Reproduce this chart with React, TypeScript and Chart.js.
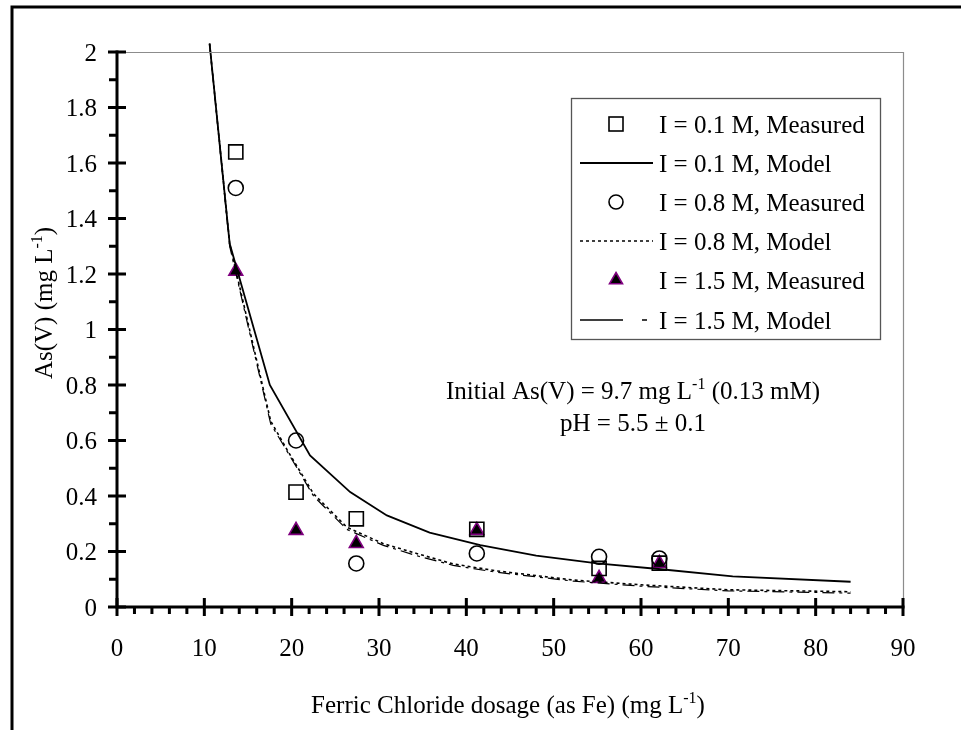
import React, { useEffect, useRef } from "react";
import { Chart, registerables } from "chart.js";

Chart.register(...registerables);

// ---- data ----
const xMajorTicks = [0, 10, 20, 30, 40, 50, 60, 70, 80, 90];
const xTickLabels = ["0", "10", "20", "30", "40", "50", "60", "70", "80", "90"];
const yMajorTicks = [0, 0.2, 0.4, 0.6, 0.8, 1, 1.2, 1.4, 1.6, 1.8, 2];
const yTickLabels = ["0", "0.2", "0.4", "0.6", "0.8", "1", "1.2", "1.4", "1.6", "1.8", "2"];

const dosage = [13.6, 20.5, 27.4, 41.2, 55.2, 62.1];
const measured01 = [1.64, 0.414, 0.318, 0.28, 0.139, 0.158];
const measured08 = [1.51, 0.6, 0.157, 0.193, 0.181, 0.175];
const measured15 = [1.21, 0.276, 0.229, 0.276, 0.103, 0.157];

const model01X = [10.6, 12.9, 17.5, 22.1, 26.7, 30.9, 35.8, 41.6, 48, 55, 62, 70.5, 84];
const model01Y = [2.03, 1.31, 0.8, 0.546, 0.414, 0.33, 0.268, 0.223, 0.185, 0.157, 0.137, 0.11, 0.091];

const model08X = [10.6, 12.9, 17.6, 19.5, 22.5, 26.3, 30.5, 34.3, 38.5, 43.5, 52.3, 60, 70, 84];
const model08Y = [2.03, 1.31, 0.67, 0.565, 0.408, 0.288, 0.228, 0.193, 0.155, 0.13, 0.097, 0.08, 0.062, 0.055];

const model15X = [10.6, 12.9, 17.6, 19.5, 22.5, 26.3, 30.5, 34.3, 38.5, 43.5, 52.3, 60, 70, 84];
const model15Y = [2.03, 1.3, 0.66, 0.56, 0.4, 0.28, 0.222, 0.185, 0.15, 0.125, 0.093, 0.075, 0.058, 0.05];

const legendLabels = [
  "I = 0.1 M, Measured",
  "I = 0.1 M, Model",
  "I = 0.8 M, Measured",
  "I = 0.8 M, Model",
  "I = 1.5 M, Measured",
  "I = 1.5 M, Model",
];

const FONT = "'Liberation Serif', 'Times New Roman', serif";
const PURPLE = "#800080";

const toPts = (xs: number[], ys: number[]) => xs.map((x, i) => ({ x, y: ys[i] }));

type Part = { t: string; sup?: boolean };

function richWidth(ctx: CanvasRenderingContext2D, parts: Part[], size: number, supSize: number) {
  let w = 0;
  for (const p of parts) {
    ctx.font = `${p.sup ? supSize : size}px ${FONT}`;
    w += ctx.measureText(p.t).width;
  }
  return w;
}

function drawRich(
  ctx: CanvasRenderingContext2D,
  parts: Part[],
  x: number,
  baseline: number,
  align: "left" | "center",
  size = 25,
  supSize = 16
) {
  const w = richWidth(ctx, parts, size, supSize);
  let cx = align === "center" ? x - w / 2 : x;
  ctx.textAlign = "left";
  ctx.textBaseline = "alphabetic";
  ctx.fillStyle = "#000";
  for (const p of parts) {
    ctx.font = `${p.sup ? supSize : size}px ${FONT}`;
    ctx.fillText(p.t, cx, p.sup ? baseline - 10 : baseline);
    cx += ctx.measureText(p.t).width;
  }
}

function drawMarker(ctx: CanvasRenderingContext2D, kind: string, x: number, y: number) {
  ctx.save();
  ctx.setLineDash([]);
  if (kind === "rect") {
    ctx.strokeStyle = "#000";
    ctx.lineWidth = 1.6;
    ctx.strokeRect(x - 7, y - 7, 14, 14);
  } else if (kind === "circle") {
    ctx.strokeStyle = "#000";
    ctx.lineWidth = 1.6;
    ctx.beginPath();
    ctx.arc(x, y, 7, 0, Math.PI * 2);
    ctx.stroke();
  } else {
    const r = 7.5;
    ctx.beginPath();
    ctx.moveTo(x, y - r);
    ctx.lineTo(x + r * 0.866, y + r * 0.5);
    ctx.lineTo(x - r * 0.866, y + r * 0.5);
    ctx.closePath();
    ctx.fillStyle = "#000";
    ctx.fill();
    ctx.strokeStyle = PURPLE;
    ctx.lineWidth = 1.6;
    ctx.stroke();
  }
  ctx.restore();
}

const decorPlugin = {
  id: "decor",
  afterDraw(chart: any) {
    const ctx: CanvasRenderingContext2D = chart.ctx;
    const xs = chart.scales.x;
    const ys = chart.scales.y;
    const { left, right, top, bottom } = chart.chartArea;
    ctx.save();

    // outer frame
    ctx.strokeStyle = "#000";
    ctx.lineWidth = 3;
    ctx.strokeRect(12, 7, 1000, 800);

    // gray top/right of plot area
    ctx.strokeStyle = "#8c8c8c";
    ctx.lineWidth = 1.2;
    ctx.beginPath();
    ctx.moveTo(left, top + 0.5);
    ctx.lineTo(right + 0.5, top + 0.5);
    ctx.lineTo(right + 0.5, bottom);
    ctx.stroke();

    // axes
    ctx.strokeStyle = "#000";
    ctx.lineWidth = 3;
    ctx.lineCap = "butt";
    ctx.beginPath();
    ctx.moveTo(left, top - 1.5);
    ctx.lineTo(left, bottom + 1.5);
    ctx.moveTo(left - 1.5, bottom);
    ctx.lineTo(right + 1.5, bottom);
    ctx.stroke();

    // y ticks
    ctx.beginPath();
    for (const v of yMajorTicks) {
      const py = ys.getPixelForValue(v);
      ctx.moveTo(left - 9, py);
      ctx.lineTo(left + 9, py);
    }
    for (let i = 0; i < yMajorTicks.length - 1; i++) {
      const py = ys.getPixelForValue((yMajorTicks[i] + yMajorTicks[i + 1]) / 2);
      ctx.moveTo(left - 8, py);
      ctx.lineTo(left, py);
    }
    // x ticks
    for (const v of xMajorTicks) {
      const px = xs.getPixelForValue(v);
      ctx.moveTo(px, bottom - 9);
      ctx.lineTo(px, bottom + 9);
    }
    for (let i = 0; i < xMajorTicks.length - 1; i++) {
      for (let k = 1; k < 5; k++) {
        const px = xs.getPixelForValue(xMajorTicks[i] + (k * (xMajorTicks[i + 1] - xMajorTicks[i])) / 5);
        ctx.moveTo(px, bottom);
        ctx.lineTo(px, bottom + 7);
      }
    }
    ctx.stroke();

    // tick labels
    ctx.fillStyle = "#000";
    ctx.font = `25px ${FONT}`;
    ctx.textBaseline = "alphabetic";
    ctx.textAlign = "right";
    yMajorTicks.forEach((v, i) => {
      ctx.fillText(yTickLabels[i], left - 20, ys.getPixelForValue(v) + 8.5);
    });
    ctx.textAlign = "center";
    xMajorTicks.forEach((v, i) => {
      ctx.fillText(xTickLabels[i], xs.getPixelForValue(v), bottom + 49);
    });

    // axis titles
    drawRich(
      ctx,
      [{ t: "Ferric Chloride dosage (as Fe) (mg L" }, { t: "-1", sup: true }, { t: ")" }],
      508,
      713,
      "center"
    );
    ctx.save();
    ctx.translate(44, 303);
    ctx.rotate(-Math.PI / 2);
    drawRich(ctx, [{ t: "As(V) (mg L" }, { t: "-1", sup: true }, { t: ")" }], 0, 8, "center");
    ctx.restore();

    // annotation
    drawRich(
      ctx,
      [{ t: "Initial As(V) = 9.7 mg L" }, { t: "-1", sup: true }, { t: " (0.13 mM)" }],
      633,
      399,
      "center"
    );
    drawRich(ctx, [{ t: "pH = 5.5 ± 0.1" }], 633, 431, "center");

    // legend
    const lx0 = 571, lx1 = 880, ly0 = 98, ly1 = 339;
    ctx.fillStyle = "#fff";
    ctx.fillRect(lx0, ly0, lx1 - lx0, ly1 - ly0);
    ctx.strokeStyle = "#555";
    ctx.lineWidth = 1.3;
    ctx.strokeRect(lx0 + 0.5, ly0 + 0.5, lx1 - lx0, ly1 - ly0);
    const rowY = [124, 163, 202, 241, 280, 320];
    const kinds = ["rect", "solid", "circle", "dot", "tri", "dashdot"];
    kinds.forEach((k, i) => {
      const y = rowY[i];
      if (k === "rect" || k === "circle" || k === "tri") {
        drawMarker(ctx, k, 616, y);
      } else {
        ctx.save();
        ctx.strokeStyle = "#000";
        ctx.lineWidth = k === "solid" ? 1.8 : 1.6;
        if (k === "dot") ctx.setLineDash([3, 3]);
        if (k === "dashdot") ctx.setLineDash([43, 19, 5, 30]);
        ctx.beginPath();
        ctx.moveTo(580, y);
        ctx.lineTo(653, y);
        ctx.stroke();
        ctx.restore();
      }
      drawRich(ctx, [{ t: legendLabels[i] }], 659, y + 8.5, "left");
    });

    ctx.restore();
  },
};

export default function App() {
  const ref = useRef<HTMLCanvasElement | null>(null);

  useEffect(() => {
    if (!ref.current) return;
    const chart = new Chart(ref.current, {
      type: "scatter",
      data: {
        datasets: [
          {
            label: legendLabels[1],
            data: toPts(model01X, model01Y),
            showLine: true,
            borderColor: "#000",
            borderWidth: 1.8,
            pointRadius: 0,
            tension: 0,
            clip: false as any,
          },
          {
            label: legendLabels[3],
            data: toPts(model08X, model08Y),
            showLine: true,
            borderColor: "#000",
            borderWidth: 1.6,
            borderDash: [3, 3],
            pointRadius: 0,
            tension: 0,
            clip: false as any,
          },
          {
            label: legendLabels[5],
            data: toPts(model15X, model15Y),
            showLine: true,
            borderColor: "#000",
            borderWidth: 1.2,
            borderDash: [12, 5, 3, 5],
            pointRadius: 0,
            tension: 0,
            clip: false as any,
          },
          {
            label: legendLabels[0],
            data: toPts(dosage, measured01),
            showLine: false,
            pointStyle: "rect",
            pointRadius: 10,
            pointBorderWidth: 1.6,
            pointBorderColor: "#000",
            pointBackgroundColor: "rgba(0,0,0,0)",
          },
          {
            label: legendLabels[2],
            data: toPts(dosage, measured08),
            showLine: false,
            pointStyle: "circle",
            pointRadius: 7.5,
            pointBorderWidth: 1.6,
            pointBorderColor: "#000",
            pointBackgroundColor: "rgba(0,0,0,0)",
          },
          {
            label: legendLabels[4],
            data: toPts(dosage, measured15),
            showLine: false,
            pointStyle: "triangle",
            pointRadius: 8,
            pointBorderWidth: 1.6,
            pointBorderColor: PURPLE,
            pointBackgroundColor: "#000",
          },
        ],
      },
      options: {
        animation: false,
        responsive: false,
        devicePixelRatio: 1,
        layout: { padding: { left: 117, top: 52, right: 58, bottom: 123 } },
        plugins: {
          legend: { display: false },
          tooltip: { enabled: false },
          title: { display: false },
        },
        scales: {
          x: { type: "linear", min: 0, max: 90, display: false },
          y: { type: "linear", min: 0, max: 2, display: false },
        },
      },
      plugins: [decorPlugin],
    });
    return () => chart.destroy();
  }, []);

  return (
    <div style={{ position: "fixed", left: 0, top: 0, width: 961, height: 730, background: "#fff" }}>
      <canvas ref={ref} width={961} height={730} style={{ width: 961, height: 730, display: "block" }} />
    </div>
  );
}
